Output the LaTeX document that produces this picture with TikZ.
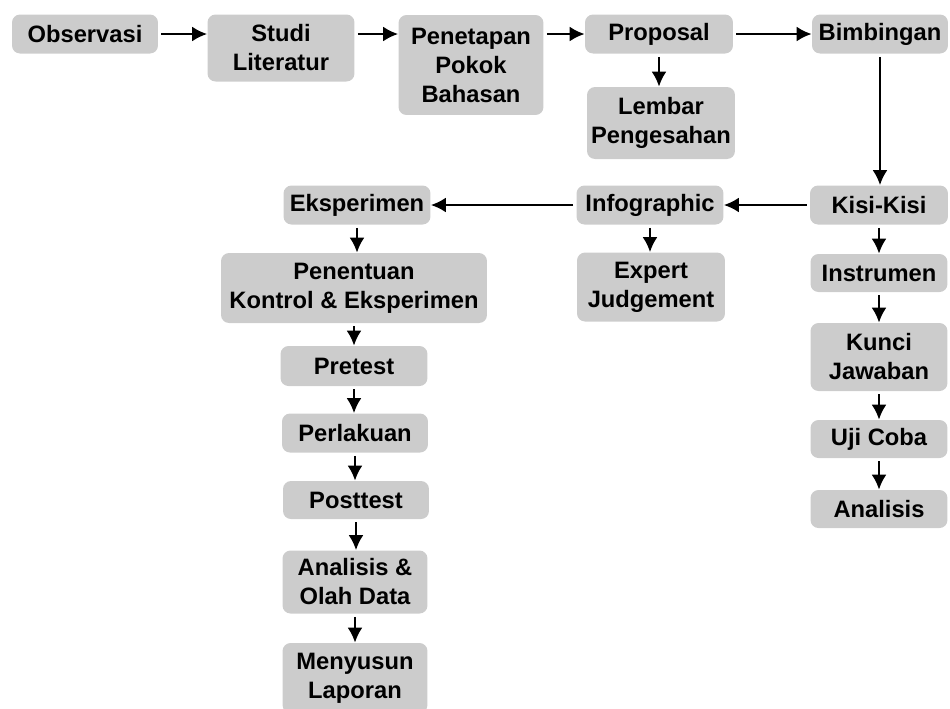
\documentclass[tikz,border=0pt]{standalone}
\usepackage{fontspec}
\setmainfont{Liberation Sans}
\usetikzlibrary{arrows.meta}
\tikzset{
	box/.style={fill=black!20, rounded corners=0.16cm, inner sep=0pt, align=center, font=\fontsize{13.5}{16.5}\selectfont\bfseries},
	arr/.style={-{Latex[length=0.3cm,width=0.3cm]}, line width=0.05cm, shorten <=0.06cm}
}

\begin{document}
\begin{tikzpicture}[x=0.02cm, y=-0.02cm]
			%%%%% START %%%%%
			\useasboundingbox (0, 0) rectangle (950, 708);
			
			% top row
			\node[box, minimum width=2.92cm, minimum height=0.78cm] (obs) at (85, 34) {Observasi};
			\node[box, minimum width=2.94cm, minimum height=1.34cm] (stu) at (281, 48) {Studi\\Literatur};
			\node[box, minimum width=2.9cm, minimum height=2cm] (pen) at (471, 65) {Penetapan\\Pokok\\Bahasan};
			\node[box, minimum width=2.96cm, minimum height=0.78cm] (pro) at (659, 34) {Proposal};
			\node[box, minimum width=2.72cm, minimum height=0.78cm] (bim) at (880, 34) {Bimbingan};
			\node[box, minimum width=2.96cm, minimum height=1.44cm] (lem) at (661, 123) {Lembar\\Pengesahan};
			
			% middle row
			\node[box, minimum width=2.76cm, minimum height=0.78cm] (kis) at (879, 205) {Kisi-Kisi};
			\node[box, minimum width=2.94cm, minimum height=0.78cm] (inf) at (650, 205) {Infographic};
			\node[box, minimum width=2.96cm, minimum height=1.38cm] (exp) at (651, 287) {Expert\\Judgement};
			\node[box, minimum width=2.94cm, minimum height=0.78cm] (eks) at (357, 205) {Eksperimen};
			
			% left column
			\node[box, minimum width=5.32cm, minimum height=1.4cm] (ktr) at (354, 288) {Penentuan\\Kontrol \& Eksperimen};
			\node[box, minimum width=2.94cm, minimum height=0.8cm] (pre) at (354, 366) {Pretest};
			\node[box, minimum width=2.92cm, minimum height=0.78cm] (per) at (355, 433) {Perlakuan};
			\node[box, minimum width=2.92cm, minimum height=0.76cm] (pos) at (356, 500) {Posttest};
			\node[box, minimum width=2.9cm, minimum height=1.26cm] (olh) at (355, 582) {Analisis \&\\Olah Data};
			\node[box, minimum width=2.9cm, minimum height=1.4cm] (lap) at (355, 678) {Menyusun\\Laporan};
			
			% right column
			\node[box, minimum width=2.74cm, minimum height=0.76cm] (ins) at (879, 273) {Instrumen};
			\node[box, minimum width=2.74cm, minimum height=1.36cm] (kun) at (879, 357) {Kunci\\Jawaban};
			\node[box, minimum width=2.74cm, minimum height=0.76cm] (uji) at (879, 439) {Uji Coba};
			\node[box, minimum width=2.74cm, minimum height=0.76cm] (anl) at (879, 509) {Analisis};
			
			% arrows
			\draw[arr] (obs.east) -- (obs.east -| stu.west);
			\draw[arr] (stu.east |- obs.east) -- (pen.west |- obs.east);
			\draw[arr] (pen.east |- obs.east) -- (pro.west);
			\draw[arr] (pro.east) -- (bim.west);
			\draw[arr] (pro.south) -- (pro.south |- lem.north);
			\draw[arr] (bim.south) -- (bim.south |- kis.north);
			\draw[arr] (kis.west) -- (inf.east);
			\draw[arr] (inf.west) -- (eks.east);
			\draw[arr] (inf.south) -- (inf.south |- exp.north);
			\draw[arr] (eks.south) -- (eks.south |- ktr.north);
			\draw[arr] (ktr.south) -- (ktr.south |- pre.north);
			\draw[arr] (pre.south) -- (pre.south |- per.north);
			\draw[arr] (per.south) -- (per.south |- pos.north);
			\draw[arr] (pos.south) -- (pos.south |- olh.north);
			\draw[arr] (olh.south) -- (olh.south |- lap.north);
			\draw[arr] (kis.south) -- (ins.north);
			\draw[arr] (ins.south) -- (kun.north);
			\draw[arr] (kun.south) -- (uji.north);
			\draw[arr] (uji.south) -- (anl.north);
			
			%%%%% END %%%%%
\end{tikzpicture}
\end{document}
